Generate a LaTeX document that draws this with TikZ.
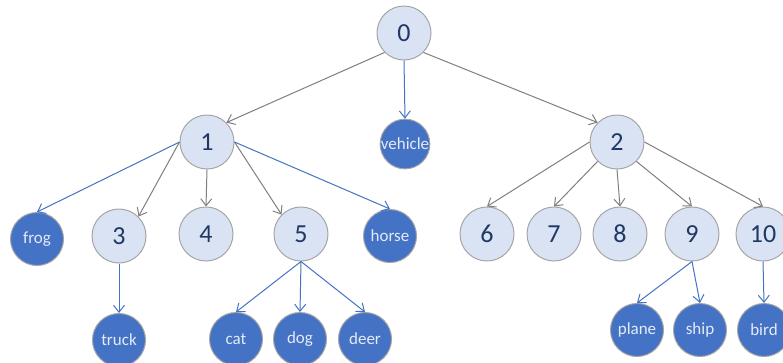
\documentclass[tikz,border=0pt]{standalone}
\usepackage{fontspec}
\setmainfont{Carlito}
\usetikzlibrary{arrows.meta}
\definecolor{lightfill}{HTML}{DAE3F3}
\definecolor{darkfill}{HTML}{4472C4}
\definecolor{rimgray}{HTML}{A5A5A5}
\definecolor{navytext}{HTML}{1F3864}
\definecolor{edgegray}{HTML}{7F7F7F}
\definecolor{edgeblue}{HTML}{4472C4}
\definecolor{paletext}{HTML}{E4EBF7}
\begin{document}
\begin{tikzpicture}[x=1pt,y=-1pt,
  inner/.style={circle, draw=rimgray, line width=1pt, fill=lightfill,
    minimum size=54pt, inner sep=0pt, text=navytext,
    font=\fontsize{26}{26}\selectfont},
  leaf/.style={circle, draw=rimgray, line width=1pt, fill=darkfill,
    minimum size=53pt, inner sep=0pt, text=paletext,
    font=\fontsize{17}{17}\selectfont},
  tip/.style={-{Straight Barb[length=7pt,width=11pt,line width=1pt]}},
  grayedge/.style={tip, draw=edgegray, line width=1pt},
  blueedge/.style={tip, draw=edgeblue, line width=1pt}]
\useasboundingbox (0,0) rectangle (783,362);
\begin{scope}
\clip (0,0) rectangle (783,362);
% level 0 and 1
\node[inner] (n0) at (404,33) {0};
\node[leaf, minimum size=49pt] (vehicle) at (405,144) {vehicle};
\node[inner] (n1) at (207,142) {1};
\node[inner] (n2) at (617,142) {2};
% level 2
\node[leaf]  (frog)  at (37,239)  {frog};
\node[inner] (n3)    at (119,236) {3};
\node[inner] (n4)    at (206,234) {4};
\node[inner] (n5)    at (301,234) {5};
\node[leaf]  (horse) at (390,236) {horse};
\node[inner] (n6)    at (487,234) {6};
\node[inner] (n7)    at (554,234) {7};
\node[inner] (n8)    at (620,234) {8};
\node[inner] (n9)    at (692,234) {9};
\node[inner] (n10)   at (763,234) {10};
% level 3
\node[leaf] (truck) at (119,340) {truck};
\node[leaf] (cat)   at (236,339) {cat};
\node[leaf] (dog)   at (300,339) {dog};
\node[leaf] (deer)  at (365,339) {deer};
\node[leaf] (plane) at (637,330) {plane};
\node[leaf] (ship)  at (700,330) {ship};
\node[leaf] (bird)  at (764,330) {bird};
% connectors
\draw[grayedge] (n0.south west) -- (n1.north east);
\draw[blueedge] (n0.south) -- (vehicle.north);
\draw[grayedge] (n0.south east) -- (n2.north west);
\draw[blueedge] (n1.west) -- (frog.north);
\draw[grayedge] (n1.west) -- (n3.north east);
\draw[grayedge] (n1.south) -- (n4.north);
\draw[grayedge] (n1.east) -- (n5.north west);
\draw[blueedge] (n1.east) -- (horse.north);
\draw[grayedge] (n2.west) -- (n6.north);
\draw[grayedge] (n2.south west) -- (n7.north);
\draw[grayedge] (n2.south) -- (n8.north);
\draw[grayedge] (n2.south east) -- (n9.north);
\draw[grayedge] (n2.east) -- (n10.north);
\draw[blueedge] (n3.south) -- (truck.north);
\draw[blueedge] (n5.south) -- (cat.north);
\draw[blueedge] (n5.south) -- (dog.north);
\draw[blueedge] (n5.south) -- (deer.north);
\draw[blueedge] (n9.south) -- (plane.north);
\draw[blueedge] (n9.south) -- (ship.north);
\draw[blueedge] (n10.south) -- (bird.north);
\end{scope}
\end{tikzpicture}
\end{document}
